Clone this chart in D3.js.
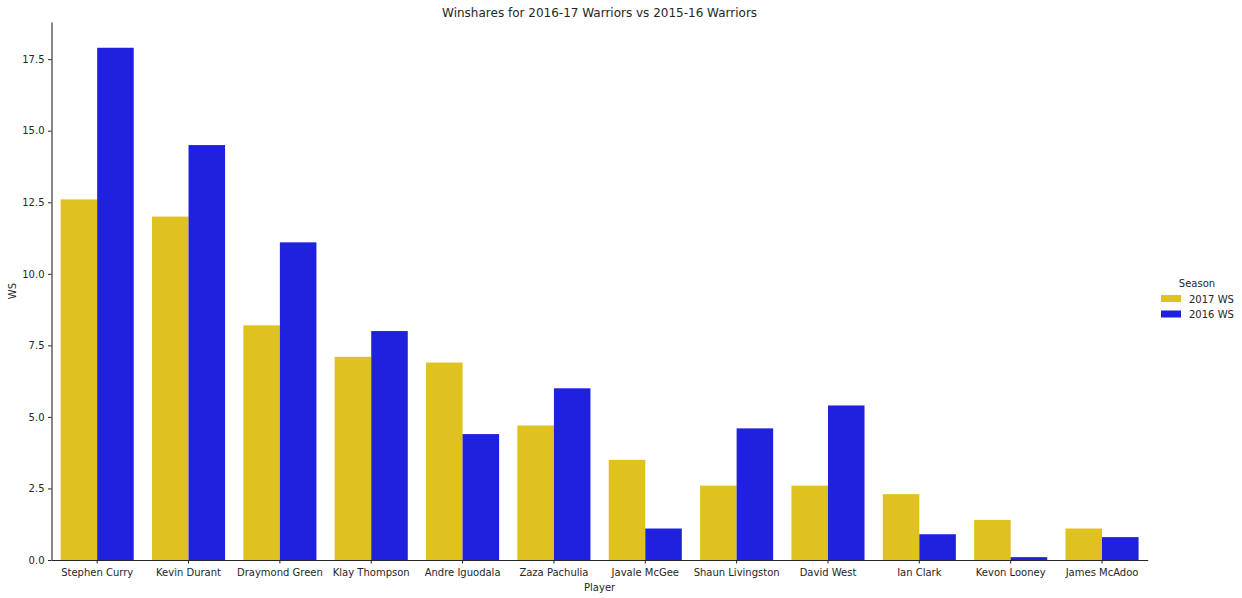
<!DOCTYPE html>
<html>
<head>
<meta charset="utf-8">
<script src="https://cdn.jsdelivr.net/npm/d3@7"></script>
<style>
  body { margin: 0; background: #fff; }
  text { font-family: "DejaVu Sans", sans-serif; fill: #262626; }
</style>
</head>
<body>
<svg id="chart" width="1242" height="598"></svg>
<script>
const players = ["Stephen Curry", "Kevin Durant", "Draymond Green", "Klay Thompson",
  "Andre Iguodala", "Zaza Pachulia", "Javale McGee", "Shaun Livingston",
  "David West", "Ian Clark", "Kevon Looney", "James McAdoo"];
const seasons = ["2017 WS", "2016 WS"];
const ws2017 = [12.6, 12.0, 8.2, 7.1, 6.9, 4.7, 3.5, 2.6, 2.6, 2.3, 1.4, 1.1];
const ws2016 = [17.9, 14.5, 11.1, 8.0, 4.4, 6.0, 1.1, 4.6, 5.4, 0.9, 0.1, 0.8];
const yTicks = [0, 2.5, 5, 7.5, 10, 12.5, 15, 17.5];
const colors = ["#dfc120", "#2020df"];

const svg = d3.select("#chart");
const mLeft = 51.5, mRight = 1147.7, mTop = 22, mBottom = 560;

const x = d3.scaleBand().domain(players).range([mLeft, mRight]).paddingInner(0.2).paddingOuter(0.1);
const xSub = d3.scaleBand().domain(seasons).range([0, x.bandwidth()]);
const y = d3.scaleLinear().domain([0, 18.8]).range([mBottom, mTop]);

const rows = players.map((p, i) => ({ player: p, vals: [ws2017[i], ws2016[i]] }));

const groups = svg.append("g").selectAll("g")
  .data(rows)
  .enter()
  .append("g")
  .attr("transform", d => "translate(" + x(d.player) + ",0)");

groups.selectAll("rect")
  .data(d => d.vals.map((v, j) => ({ season: seasons[j], v: v, j: j })))
  .enter()
  .append("rect")
  .attr("x", d => xSub(d.season))
  .attr("width", xSub.bandwidth())
  .attr("y", d => y(d.v))
  .attr("height", d => y(0) - y(d.v))
  .attr("fill", d => colors[d.j]);

// axes
const xAxis = svg.append("g")
  .attr("transform", "translate(0," + mBottom + ")")
  .call(d3.axisBottom(x).tickSize(3.5).tickPadding(5.5).tickSizeOuter(0));
xAxis.selectAll("text").style("font-size", "10px");

const yAxis = svg.append("g")
  .attr("transform", "translate(" + mLeft + ",0)")
  .call(d3.axisLeft(y).tickValues(yTicks).tickFormat(d3.format(".1f")).tickSize(3.5).tickPadding(3.5).tickSizeOuter(0));
yAxis.selectAll("text").style("font-size", "10px");

[xAxis, yAxis].forEach(a => {
  a.select(".domain").attr("stroke", "#262626").attr("stroke-width", 1.1);
  a.selectAll(".tick line").attr("stroke", "#262626");
  a.attr("font-family", null);
});

// labels
svg.append("text")
  .attr("x", (mLeft + mRight) / 2)
  .attr("y", 17)
  .attr("text-anchor", "middle")
  .style("font-size", "12px")
  .text("Winshares for 2016-17 Warriors vs 2015-16 Warriors");

svg.append("text")
  .attr("x", (mLeft + mRight) / 2)
  .attr("y", 591)
  .attr("text-anchor", "middle")
  .style("font-size", "10px")
  .text("Player");

svg.append("text")
  .attr("transform", "translate(16," + (mTop + mBottom) / 2 + ") rotate(-90)")
  .attr("text-anchor", "middle")
  .style("font-size", "10px")
  .text("WS");

// legend
const legend = svg.append("g").attr("transform", "translate(1161,0)");
legend.append("text")
  .attr("x", 36)
  .attr("y", 287)
  .attr("text-anchor", "middle")
  .style("font-size", "10px")
  .text("Season");

const items = legend.selectAll(".item")
  .data(seasons)
  .enter()
  .append("g")
  .attr("transform", (d, i) => "translate(0," + (295 + i * 15.5) + ")");
items.append("rect")
  .attr("width", 20)
  .attr("height", 7)
  .attr("fill", (d, i) => colors[i]);
items.append("text")
  .attr("x", 28)
  .attr("y", 7.5)
  .style("font-size", "10px")
  .text(d => d);
</script>
</body>
</html>
